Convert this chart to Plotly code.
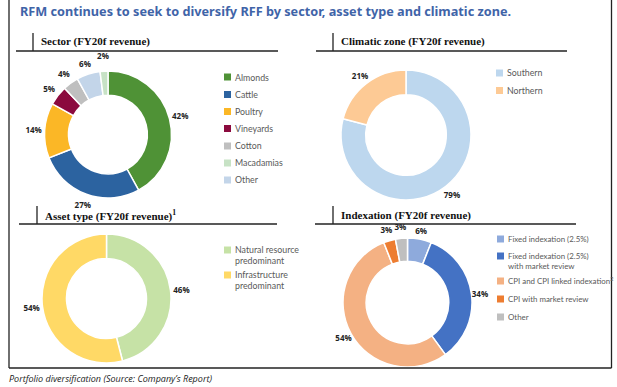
import plotly.graph_objects as go

W, H = 617, 387

# ---------------- data ----------------
title_text = "RFM continues to seek to diversify RFF by sector, asset type and climatic zone."
caption_text = "Portfolio diversification (Source: Company’s Report)"

sector_title = "Sector (FY20f revenue)"
sector_labels = ["Almonds", "Cattle", "Poultry", "Vineyards", "Cotton", "Other", "Macadamias"]
sector_values = [42, 27, 14, 5, 4, 6, 2]
sector_legend = ["Almonds", "Cattle", "Poultry", "Vineyards", "Cotton", "Macadamias", "Other"]
sector_colors = {"Almonds": "#4f9236", "Cattle": "#2c63a0", "Poultry": "#fbb726", "Vineyards": "#8b0a3e",
                 "Cotton": "#bfbfbf", "Macadamias": "#c7e2c5", "Other": "#c3d5e9"}

climate_title = "Climatic zone (FY20f revenue)"
climate_labels = ["Southern", "Northern"]
climate_values = [79, 21]
climate_colors = {"Southern": "#bdd7ee", "Northern": "#fdca95"}

asset_title = "Asset type (FY20f revenue)<sup>1</sup>"
asset_labels = ["Natural resource<br>predominant", "Infrastructure<br>predominant"]
asset_values = [46, 54]
asset_colors = ["#c6e2a6", "#ffd966"]

index_title = "Indexation (FY20f revenue)"
index_labels = ["Fixed indexation (2.5%)", "Fixed indexation (2.5%)<br>with market review",
                "CPI and CPI linked indexation<sup>2</sup>", "CPI with market review", "Other"]
index_values = [6, 34, 54, 3, 3]
index_colors = ["#8eaadc", "#4472c4", "#f4b183", "#ed7d31", "#bfbfbf"]


# ---------------- helpers ----------------
def fx(px):
    return px / W


def fy(py):
    return 1 - py / H


def dom(cx, cy, r):
    return dict(x=[fx(cx - r), fx(cx + r)], y=[fy(cy + r), fy(cy - r)])


fig = go.Figure()

LBL_FONT = dict(family="Open Sans", size=8, color="#222222")


def add_pie(labels, values, colors, cx, cy, r, label_r, hole=0.62):
    # visible donut
    fig.add_trace(go.Pie(
        labels=labels, values=values, sort=False, direction="clockwise", rotation=0,
        hole=hole, marker=dict(colors=colors, line=dict(color="white", width=1.5)),
        textinfo="none", domain=dom(cx, cy, r), showlegend=False, hoverinfo="label+percent",
    ))
    # transparent ring carrying the percentage labels just outside the donut
    band = 20.0
    R = label_r + band / 2
    fig.add_trace(go.Pie(
        labels=labels, values=values, sort=False, direction="clockwise", rotation=0,
        hole=(R - band) / R, marker=dict(colors=["rgba(0,0,0,0)"] * len(values), line=dict(width=0)),
        texttemplate="<b>%{value}%</b>", textposition="inside", insidetextorientation="horizontal",
        textfont=LBL_FONT, insidetextfont=LBL_FONT,
        domain=dom(cx, cy, R), showlegend=False, hoverinfo="skip",
    ))


add_pie(sector_labels, sector_values, [sector_colors[l] for l in sector_labels], 108, 134.5, 63.5, 74.5)
add_pie(climate_labels, climate_values, [climate_colors[l] for l in climate_labels], 406, 135, 65, 75)
add_pie(asset_labels, asset_values, asset_colors, 106.5, 298.5, 64.5, 75.5)
add_pie(index_labels, index_values, index_colors, 407.5, 302.5, 64.5, 73, hole=0.64)

shapes = []
annotations = []


def line(x0, y0, x1, y1, color="#222222", w=1.3):
    shapes.append(dict(type="line", xref="paper", yref="paper", x0=fx(x0), y0=fy(y0), x1=fx(x1), y1=fy(y1),
                       line=dict(color=color, width=w)))


def text(x, y, s, size, color, family, xanchor="left", yanchor="middle"):
    annotations.append(dict(xref="paper", yref="paper", x=fx(x), y=fy(y), text=s, showarrow=False,
                            xanchor=xanchor, yanchor=yanchor, align="left",
                            font=dict(size=size, color=color, family=family)))


def legend(items, colors, x, ys, size=8.8):
    for lab, col, y in zip(items, colors, ys):
        shapes.append(dict(type="rect", xref="paper", yref="paper", x0=fx(x), x1=fx(x + 7),
                           y0=fy(y + 3.5), y1=fy(y - 3.5), fillcolor=col, line=dict(width=0)))
        nlines = lab.count("<br>") + 1
        ty = y + (nlines - 1) * 4.5
        text(x + 9, ty, lab, size, "#595959", "Lato")


# frame
line(9, 0, 9, 368)
line(611.5, 0, 611.5, 368)
line(9, 368, 611.5, 368)

# title and caption
text(18, 11, "<b>" + title_text + "</b>", 12.7, "#3f64a8", "Noto Sans")
text(7, 378, "<i>" + caption_text + "</i>", 9, "#222222", "Open Sans")

# section headers
HDR = "Liberation Serif"
line(16, 51, 278, 51)
line(33, 33, 33, 51)
text(39, 42, "<b>" + sector_title + "</b>", 11, "#111111", HDR)

line(316, 51, 567, 51)
line(333, 33, 333, 51)
text(339, 42, "<b>" + climate_title + "</b>", 11, "#111111", HDR)

line(19, 224, 277, 224)
line(37, 206, 37, 224)
text(43, 215, "<b>" + asset_title + "</b>", 11, "#111111", HDR)

line(315, 224, 576, 224)
line(333, 206, 333, 224)
text(339, 215, "<b>" + index_title + "</b>", 11, "#111111", HDR)

# legends
legend(sector_legend, [sector_colors[l] for l in sector_legend], 224,
       [77, 94.5, 111.5, 128.5, 146, 163, 180])
legend(climate_labels, [climate_colors[l] for l in climate_labels], 496, [73, 90.5])
legend(asset_labels, asset_colors, 224, [250, 275])
legend(index_labels, index_colors, 497, [239, 256, 281, 299, 317], size=7.9)

fig.update_layout(
    width=W, height=H, margin=dict(l=0, r=0, t=0, b=0),
    paper_bgcolor="white", plot_bgcolor="white",
    shapes=shapes, annotations=annotations,
    uniformtext=dict(minsize=8, mode="show"),
)

fig.write_html("out.html", config={"displayModeBar": False},
               post_script="document.body.style.margin='0';document.body.style.padding='0';")
